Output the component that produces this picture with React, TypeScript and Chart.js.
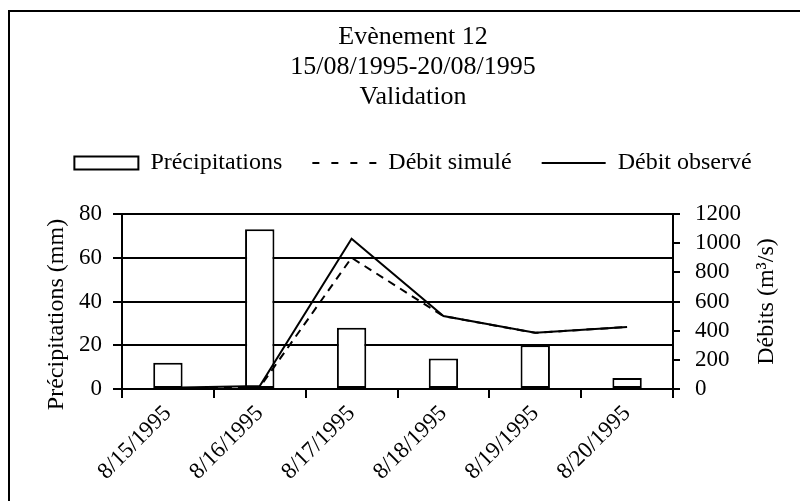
import React, { useEffect, useRef } from 'react';
import { Chart, registerables } from 'chart.js';

Chart.register(...registerables);

const categories = ['8/15/1995', '8/16/1995', '8/17/1995', '8/18/1995', '8/19/1995', '8/20/1995'];
const precipitations = [12, 73, 28, 14, 20, 5];
const debitSimule = [5, 12, 900, 500, 385, 425];
const debitObserve = [8, 20, 1030, 500, 385, 425];
const seriesLabels = ['Précipitations', 'Débit simulé', 'Débit observé'];
const titleLines = ['Evènement 12', '15/08/1995-20/08/1995', 'Validation'];
const leftAxisTitle = 'Précipitations (mm)';
const rightAxisTitle = 'Débits (m³/s)';
const leftTickValues = [0, 20, 40, 60, 80];
const rightTickValues = [0, 200, 400, 600, 800, 1000, 1200];

const SERIF = "'Liberation Serif', 'Times New Roman', Times, serif";

const borderPlugin = {
  id: 'outerBorder',
  beforeDraw(chart: any) {
    const ctx = chart.ctx;
    ctx.save();
    ctx.strokeStyle = '#000';
    ctx.lineWidth = 2;
    ctx.strokeRect(9, 11, chart.width + 20, chart.height + 20);
    ctx.restore();
  },
};

const axisTitlesPlugin = {
  id: 'axisTitles',
  afterDraw(chart: any) {
    const ctx = chart.ctx;
    const sl = chart.scales.y;
    const sr = chart.scales.y1;
    ctx.save();
    ctx.font = `24px ${SERIF}`;
    ctx.fillStyle = '#000';
    ctx.textAlign = 'center';
    ctx.textBaseline = 'middle';
    // left title
    ctx.save();
    ctx.translate(sl.left + 31, (sl.top + sl.bottom) / 2 + 13);
    ctx.rotate(-Math.PI / 2);
    ctx.fillText(leftAxisTitle, 0, 0);
    ctx.restore();
    // right title
    ctx.save();
    ctx.translate(sr.right - 33, (sr.top + sr.bottom) / 2);
    ctx.rotate(-Math.PI / 2);
    ctx.fillText(rightAxisTitle, 0, 0);
    ctx.restore();
    ctx.restore();
  },
};

export default function App() {
  const ref = useRef<HTMLCanvasElement | null>(null);

  useEffect(() => {
    if (!ref.current) return;
    const chart = new Chart(ref.current, {
      type: 'bar',
      data: {
        labels: categories,
        datasets: [
          {
            type: 'bar',
            label: seriesLabels[0],
            data: precipitations,
            yAxisID: 'y',
            backgroundColor: '#ffffff',
            borderColor: '#000000',
            borderWidth: 2,
            borderSkipped: false,
            categoryPercentage: 1,
            barPercentage: 0.32,
            order: 1,
          } as any,
          {
            type: 'line',
            label: seriesLabels[1],
            data: debitSimule,
            yAxisID: 'y1',
            borderColor: '#000000',
            backgroundColor: '#000000',
            borderWidth: 2,
            borderDash: [8, 6],
            pointRadius: 0,
            tension: 0,
            fill: false,
            order: 0,
          } as any,
          {
            type: 'line',
            label: seriesLabels[2],
            data: debitObserve,
            yAxisID: 'y1',
            borderColor: '#000000',
            backgroundColor: '#000000',
            borderWidth: 2,
            pointRadius: 0,
            tension: 0,
            fill: false,
            order: 0,
          } as any,
        ],
      },
      options: {
        responsive: true,
        maintainAspectRatio: false,
        animation: false,
        devicePixelRatio: 1,
        layout: { padding: { left: 26, right: 0, top: 0, bottom: 0 } },
        plugins: {
          tooltip: { enabled: false },
          title: {
            display: true,
            text: titleLines,
            color: '#000',
            font: { family: SERIF, size: 26, weight: 'normal', lineHeight: '30px' },
            padding: { top: 22, bottom: 9 },
          },
          subtitle: {
            display: true,
            text: '',
            position: 'top',
            weight: 500,
            fullSize: true,
            padding: 0,
            font: { family: SERIF, size: 2, lineHeight: '29px' },
          } as any,
          legend: {
            display: true,
            position: 'top',
            labels: {
              color: '#000',
              font: { family: SERIF, size: 24 },
              usePointStyle: true,
              pointStyleWidth: 64,
              boxHeight: 13,
              padding: 30,
              generateLabels: () =>
                seriesLabels.map((t, i) => ({
                  text: t,
                  fillStyle: '#ffffff',
                  strokeStyle: '#000000',
                  lineWidth: 2,
                  lineDash: i === 1 ? [7, 12] : [],
                  lineCap: 'butt',
                  pointStyle: i === 0 ? 'rect' : 'line',
                  hidden: false,
                  datasetIndex: i,
                  fontColor: '#000',
                })) as any,
            },
          },
        },
        scales: {
          x: {
            type: 'category',
            offset: true,
            grid: {
              display: true,
              offset: true,
              drawOnChartArea: false,
              drawTicks: true,
              tickLength: 9,
              color: '#000',
              lineWidth: 2,
            },
            border: { display: true, color: '#000', width: 2 },
            ticks: {
              color: '#000',
              font: { family: SERIF, size: 23 },
              minRotation: 45,
              maxRotation: 45,
              autoSkip: false,
              padding: 2,
            },
            afterFit: (s: any) => {
              s.height = 112;
            },
          },
          y: {
            type: 'linear',
            position: 'left',
            min: leftTickValues[0],
            max: leftTickValues[leftTickValues.length - 1],
            afterBuildTicks: (s: any) => {
              s.ticks = leftTickValues.map((v) => ({ value: v }));
            },
            grid: {
              color: '#000',
              lineWidth: 2,
              drawTicks: true,
              tickLength: 9,
            },
            border: { display: true, color: '#000', width: 2 },
            ticks: {
              color: '#000',
              font: { family: SERIF, size: 23 },
              padding: 11,
              autoSkip: false,
              callback: (v: any) => String(v),
            },
            afterFit: (s: any) => {
              s.width = 96;
            },
          },
          y1: {
            type: 'linear',
            position: 'right',
            min: rightTickValues[0],
            max: rightTickValues[rightTickValues.length - 1],
            afterBuildTicks: (s: any) => {
              s.ticks = rightTickValues.map((v) => ({ value: v }));
            },
            grid: {
              drawOnChartArea: false,
              color: '#000',
              lineWidth: 2,
              drawTicks: true,
              tickLength: 7,
            },
            border: { display: true, color: '#000', width: 2 },
            ticks: {
              color: '#000',
              font: { family: SERIF, size: 23 },
              padding: 15,
              autoSkip: false,
              callback: (v: any) => String(v),
            },
            afterFit: (s: any) => {
              s.width = 127;
            },
          },
        },
      } as any,
      plugins: [borderPlugin, axisTitlesPlugin],
    });
    return () => chart.destroy();
  }, []);

  return (
    <div style={{ position: 'fixed', left: 0, top: 0, width: 800, height: 501, background: '#fff' }}>
      <canvas ref={ref} />
    </div>
  );
}
